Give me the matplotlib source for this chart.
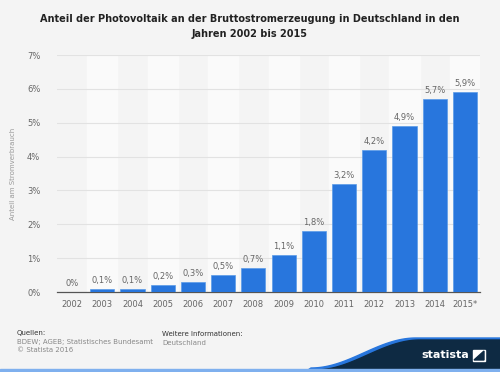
import matplotlib.pyplot as plt
import numpy as np
from matplotlib.patches import Polygon, Rectangle

years = ['2002', '2003', '2004', '2005', '2006', '2007', '2008', '2009',
         '2010', '2011', '2012', '2013', '2014', '2015*']
share = [0.0, 0.1, 0.1, 0.2, 0.3, 0.5, 0.7, 1.1, 1.8, 3.2, 4.2, 4.9, 5.7, 5.9]
labels = ['0%', '0,1%', '0,1%', '0,2%', '0,3%', '0,5%', '0,7%', '1,1%',
          '1,8%', '3,2%', '4,2%', '4,9%', '5,7%', '5,9%']
yticks = [0, 1, 2, 3, 4, 5, 6, 7]

bg = '#f4f4f4'
blue = '#2876dd'
navy = '#0e2a43'
grey = '#666666'

fig = plt.figure(figsize=(5, 3.72), dpi=100, facecolor=bg)
ax = fig.add_axes([0.114, 0.215, 0.846, 0.637])
ax.set_facecolor(bg)

x = np.arange(len(years))
# lighter column bands
for i in x:
    if i % 2 == 1:
        ax.axvspan(i - 0.5, i + 0.5, color='#fafafa', zorder=0)

for t in yticks[1:]:
    ax.axhline(t, color='#e2e2e2', lw=0.8, zorder=1)

ax.bar(x, share, width=0.8, color=blue, edgecolor='#5a9be8', linewidth=0.5, zorder=3)
for xi, v, lab in zip(x, share, labels):
    ax.text(xi, v + 0.12, lab, ha='center', va='bottom', fontsize=6, color=grey, zorder=4)

ax.set_xlim(-0.5, len(years) - 0.5)
ax.set_ylim(0, 7)
ax.set_xticks(x)
ax.set_xticklabels(years, fontsize=6, color=grey)
ax.set_yticks(yticks)
ax.set_yticklabels([f'{t}%' for t in yticks], fontsize=6, color=grey)
ax.tick_params(length=0, pad=6)
ax.tick_params(axis='y', pad=12)
for s in ['top', 'right', 'left']:
    ax.spines[s].set_visible(False)
ax.spines['bottom'].set_color('#555555')
ax.spines['bottom'].set_linewidth(0.9)
ax.set_ylabel('Anteil am Stromverbrauch', fontsize=5, color='#999999', labelpad=8)

fig.text(0.5, 0.962, 'Anteil der Photovoltaik an der Bruttostromerzeugung in Deutschland in den\nJahren 2002 bis 2015',
         ha='center', va='top', fontsize=7.0, fontweight='bold', color='#222222', linespacing=1.6)

# footer
fig.text(0.034, 0.105, 'Quellen:', fontsize=5, color='#333333', va='center')
fig.text(0.034, 0.081, 'BDEW; AGEB; Statistisches Bundesamt', fontsize=5, color='#888888', va='center')
fig.text(0.034, 0.058, '© Statista 2016', fontsize=5, color='#888888', va='center')
fig.text(0.324, 0.101, 'Weitere Informationen:', fontsize=5, color='#333333', va='center')
fig.text(0.324, 0.078, 'Deutschland', fontsize=5, color='#888888', va='center')

# statista wave
W, H = 500, 372
t = np.linspace(0, 1, 60)
wx = 315 + 105 * t
curve_y = 370 - (370 - 340) * (0.5 - 0.5 * np.cos(np.pi * t))
top_pts = [(xx / W, 1 - yy / H) for xx, yy in zip(wx, curve_y)]
blue_pts = [(xx / W, 1 - (yy - 2) / H) for xx, yy in zip(wx - 4, curve_y)]
fig.patches.append(Polygon(blue_pts + [(1, 1 - 338 / H), (1, 0), (wx[0] / W - 0.02, 0)],
                           closed=True, transform=fig.transFigure, color=blue, zorder=1))
fig.patches.append(Polygon(top_pts + [(1, 1 - 340 / H), (1, 0), (wx[0] / W, 0)],
                           closed=True, transform=fig.transFigure, color=navy, zorder=2))
fig.patches.append(Rectangle((0, 0), 1, 3 / H, transform=fig.transFigure,
                             color='#7fb0ee', zorder=3))
fig.text(0.843, 0.045, 'statista', fontsize=8, fontweight='bold', color='white', va='center', ha='left')
fig.patches.append(Rectangle((473 / W, 1 - 361 / H), 12 / W, 11 / H, transform=fig.transFigure,
                             color='white', zorder=4))
fig.patches.append(Polygon([(474 / W, 1 - 360 / H), (484 / W, 1 - 351 / H), (484 / W, 1 - 360 / H)],
                           closed=True, transform=fig.transFigure, color=navy, zorder=5))

fig.savefig('out.png', dpi=100, facecolor=bg)
